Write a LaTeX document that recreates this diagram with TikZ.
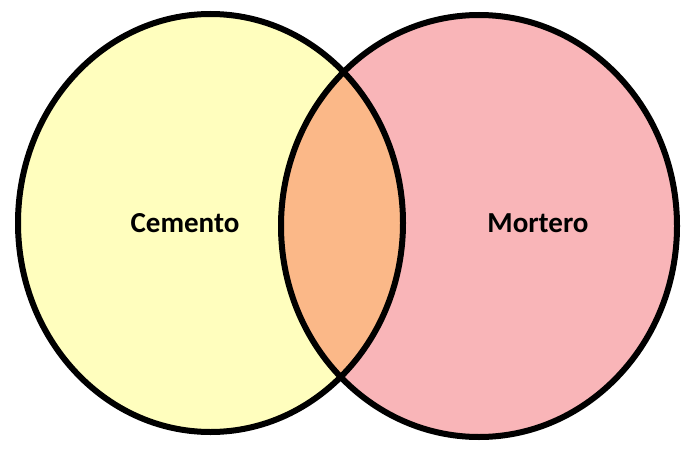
\documentclass[tikz,border=0pt]{standalone}
\usepackage{fontspec}
\setmainfont{Carlito}
\definecolor{cyel}{RGB}{255,254,190}
\definecolor{cpink}{RGB}{249,181,184}
\definecolor{corange}{RGB}{251,184,136}
\begin{document}
\begin{tikzpicture}[x=1pt,y=-1pt,
  outline/.style={draw=black,line width=6pt},
  lbl/.style={font=\bfseries\fontsize{29}{34}\selectfont,inner sep=0pt}]
\useasboundingbox[fill=white] (0,0) rectangle (695,468);
\def\lcirc{(210.5,223) ellipse [x radius=192.5, y radius=209]}
\def\rcirc{(479,226) ellipse [x radius=198, y radius=211]}
\fill[cyel] \lcirc;
\fill[cpink] \rcirc;
\begin{scope}
  \clip \lcirc;
  \fill[corange] \rcirc;
\end{scope}
\path[outline] \lcirc;
\path[outline] \rcirc;
\node[lbl] (cem) at (185,223) {Cemento};
\node[lbl] (mor) at (538,223) {Mortero};
\end{tikzpicture}
\end{document}
